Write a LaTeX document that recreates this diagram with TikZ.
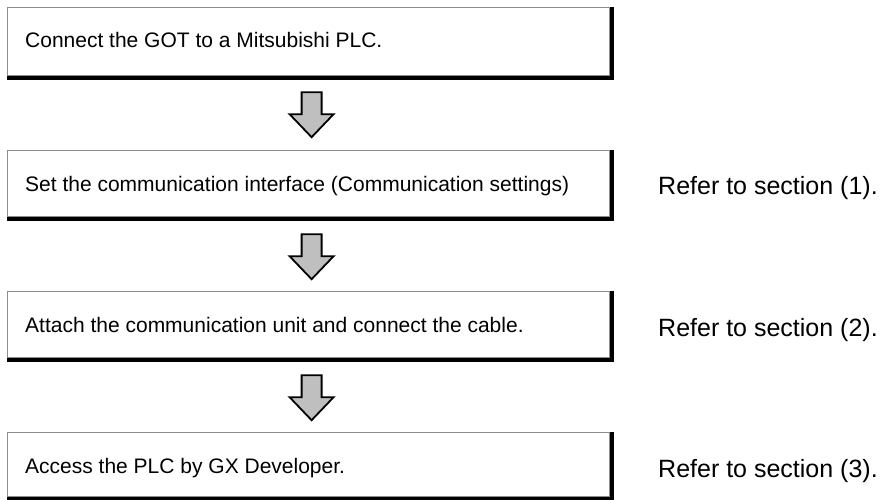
\documentclass[tikz,border=0pt]{standalone}
\usepackage{fontspec}
\setmainfont{Liberation Sans}
\usetikzlibrary{calc}
\begin{document}
\begin{tikzpicture}[x=1pt,y=-1pt]
\tikzset{
 shadowbox/.style={fill=black},
 facebox/.style={fill=white, draw=black!45, line width=1.2pt, inner sep=0, anchor=north west, minimum width=602pt},
 boxtext/.style={anchor=base west, inner sep=0, font=\fontsize{21}{25}\selectfont},
 refertext/.style={anchor=base west, inner sep=0, font=\fontsize{25}{30}\selectfont},
 blockarrow/.style={fill=black!25, draw=black, line width=1.8pt, line join=miter}
}
\useasboundingbox (0,0) rectangle (884,500);
% box 1
\fill[shadowbox] (7,7) rectangle (614,80);
\node[facebox, minimum height=68pt] (b1) at (7,7) {};
\node[boxtext] (t1) at (25,48) {Connect the GOT to a Mitsubishi PLC.};
% box 2
\fill[shadowbox] (7,150) rectangle (614,221);
\node[facebox, minimum height=66pt] (b2) at (7,150) {};
\node[boxtext] (t2) at (25,191) {Set the communication interface (Communication settings)};
\node[refertext] (r1) at (658,195) {Refer to section (1).};
% box 3
\fill[shadowbox] (7,291) rectangle (614,362);
\node[facebox, minimum height=66pt] (b3) at (7,291) {};
\node[boxtext] (t3) at (25,332) {Attach the communication unit and connect the cable.};
\node[refertext] (r2) at (658,336) {Refer to section (2).};
% box 4
\fill[shadowbox] (7,432) rectangle (614,501);
\node[facebox, minimum height=64pt] (b4) at (7,432) {};
\node[boxtext] (t4) at (25,473) {Access the PLC by GX Developer.};
\node[refertext] (r3) at (658,477) {Refer to section (3).};
% arrows
\coordinate (a1) at ($(b1.south)+(3,16)$);
\coordinate (a2) at ($(b2.south)+(3,17)$);
\coordinate (a3) at ($(b3.south)+(3,17)$);
\foreach \a in {a1,a2,a3}{
 \draw[blockarrow] (\a) ++(-10,0) -- ++(20,0) -- ++(0,22) -- ++(12,0) -- ++(-22,23) -- ++(-22,-23) -- ++(12,0) -- cycle;
}
\end{tikzpicture}
\end{document}
